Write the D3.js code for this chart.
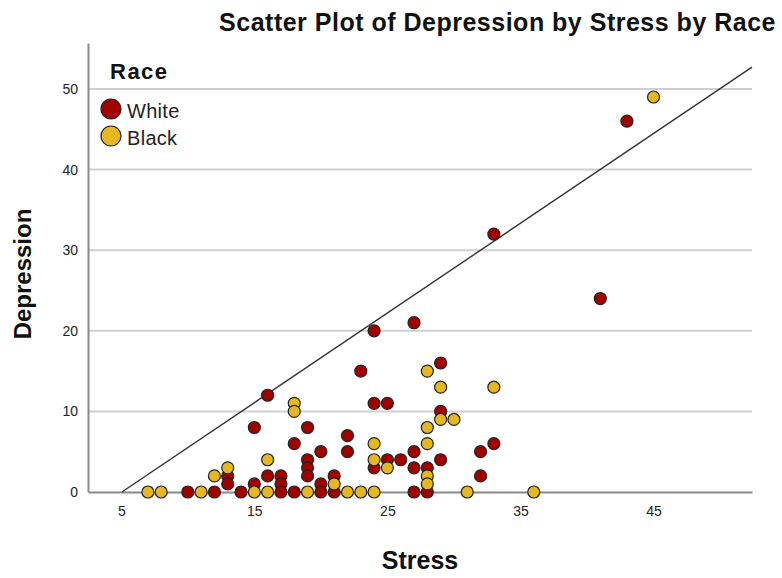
<!DOCTYPE html>
<html lang="en">
    <head>
        <meta charset="utf-8">
        <title>Scatter Plot of Depression by Stress by Race</title>
        <script type="text/javascript" src="https://cdn.jsdelivr.net/npm/d3@7"></script>
        <style>
            body { margin: 0; background: #fff; }
            text { font-family: "Liberation Sans", Arial, sans-serif; }
        </style>
    </head>
    <body>
        <div id="chart"></div>
        <script type="text/javascript">
            var w = 782;
            var h = 578;

            // points, one array per column
            var whiteStress = [15, 10, 12, 13, 13, 14, 15, 16, 17, 17, 17, 18, 18, 16, 19, 22, 20, 22, 19, 19, 19, 20, 20, 21, 21,
                24, 25, 26, 27, 27, 27, 28, 28, 29, 32, 32, 27, 29, 25, 29, 33, 24, 23, 24, 41, 43, 33];
            var whiteDep = [8, 0, 0, 2, 1, 0, 1, 2, 2, 1, 0, 6, 0, 12, 8, 7, 5, 5, 4, 3, 2, 1, 0, 2, 0,
                3, 4, 4, 5, 3, 0, 3, 0, 4, 5, 2, 21, 16, 11, 10, 6, 20, 15, 11, 24, 46, 32];
            var blackStress = [7, 8, 11, 12, 13, 15, 16, 16, 18, 18, 19, 21, 22, 23, 24, 24, 24, 25, 28, 28, 28, 28,
                29, 30, 31, 28, 29, 33, 36, 45];
            var blackDep = [0, 0, 0, 2, 3, 0, 4, 0, 11, 10, 0, 1, 0, 0, 0, 6, 4, 3, 8, 6, 2, 1,
                9, 9, 0, 15, 13, 13, 0, 49];

            // reference line end points
            var lineStress = [5.05, 52.4];
            var lineDep = [0, 52.7];

            var xTicks = [5, 15, 25, 35, 45];
            var yTicks = [0, 10, 20, 30, 40, 50];
            var races = ["White", "Black"];
            var raceColors = ["#a30000", "#e5b822"];

            var x = d3.scaleLinear().domain([2.5, 52.4]).range([88, 752]);
            var y = d3.scaleLinear().domain([0, 55.7]).range([492, 43]);

            var svg = d3.select("#chart").append("svg").attr("width", w).attr("height", h);

            // gridlines
            svg.append("g").selectAll("line")
                .data(yTicks.filter(function(d) { return d > 0; }))
                .enter().append("line")
                .attr("x1", x.range()[0]).attr("x2", x.range()[1])
                .attr("y1", function(d) { return y(d); })
                .attr("y2", function(d) { return y(d); })
                .attr("stroke", "#cfcfcf")
                .attr("stroke-width", 2);

            // axes
            var xAxis = svg.append("g").attr("transform", "translate(0," + y(0) + ")")
                .call(d3.axisBottom(x).tickValues(xTicks).tickSize(0).tickPadding(14));
            var yAxis = svg.append("g").attr("transform", "translate(" + x.range()[0] + ",0)")
                .call(d3.axisLeft(y).tickValues(yTicks).tickSize(0).tickPadding(10));
            [xAxis, yAxis].forEach(function(a) {
                a.select(".domain").attr("stroke", "#8a8a8a").attr("stroke-width", 2);
                a.selectAll("text").attr("font-size", "14px").attr("fill", "#222")
                    .attr("font-family", "Liberation Sans, Arial, sans-serif");
            });

            // reference line
            svg.append("line")
                .attr("x1", x(lineStress[0])).attr("y1", y(lineDep[0]))
                .attr("x2", x(lineStress[1])).attr("y2", y(lineDep[1]))
                .attr("stroke", "#333")
                .attr("stroke-width", 1.4);

            // points
            var pts = [];
            whiteStress.forEach(function(s, i) { pts.push({s: s, d: whiteDep[i], r: 0}); });
            blackStress.forEach(function(s, i) { pts.push({s: s, d: blackDep[i], r: 1}); });

            svg.append("g").selectAll("circle")
                .data(pts)
                .enter().append("circle")
                .attr("cx", function(d) { return x(d.s); })
                .attr("cy", function(d) { return y(d.d); })
                .attr("r", 6)
                .attr("fill", function(d) { return raceColors[d.r]; })
                .attr("stroke", "#222")
                .attr("stroke-width", 1.2);

            // title and axis labels
            svg.append("text")
                .attr("x", 776).attr("y", 31)
                .attr("text-anchor", "end")
                .attr("font-size", "25px").attr("font-weight", "bold")
                .attr("letter-spacing", "0.5px")
                .attr("fill", "#111")
                .text("Scatter Plot of Depression by Stress by Race");
            svg.append("text")
                .attr("x", 420).attr("y", 569)
                .attr("text-anchor", "middle")
                .attr("font-size", "25px").attr("font-weight", "bold")
                .attr("fill", "#111")
                .text("Stress");
            svg.append("text")
                .attr("transform", "translate(31,274) rotate(-90)")
                .attr("text-anchor", "middle")
                .attr("font-size", "24px").attr("font-weight", "bold")
                .attr("fill", "#111")
                .text("Depression");

            // legend
            svg.append("text")
                .attr("x", 110).attr("y", 79)
                .attr("font-size", "22px").attr("font-weight", "bold")
                .attr("letter-spacing", "1.5px")
                .attr("fill", "#111")
                .text("Race");
            var leg = svg.append("g").selectAll("g")
                .data(races)
                .enter().append("g")
                .attr("transform", function(d, i) { return "translate(111," + (109 + i * 27) + ")"; });
            leg.append("circle")
                .attr("r", 10)
                .attr("fill", function(d, i) { return raceColors[i]; })
                .attr("stroke", "#222")
                .attr("stroke-width", 1.2);
            leg.append("text")
                .attr("x", 16).attr("y", 9)
                .attr("font-size", "20px")
                .attr("letter-spacing", "0.3px")
                .attr("fill", "#222")
                .text(function(d) { return d; });
        </script>
    </body>
</html>
